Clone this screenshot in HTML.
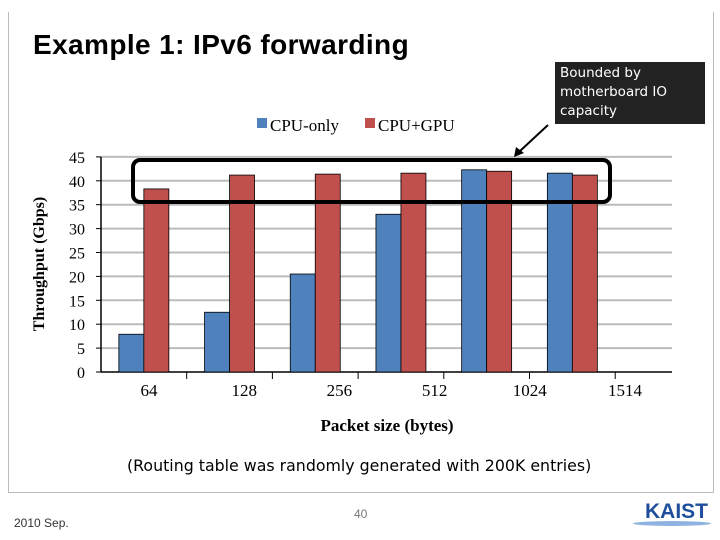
<!DOCTYPE html>
<html><head><meta charset="utf-8"><style>
body{margin:0;width:720px;height:540px;background:#fff;overflow:hidden;position:relative;font-family:"Liberation Sans",sans-serif}
.a{position:absolute}
</style></head><body>
<div class="a" style="left:8px;top:12px;width:704px;height:480px;border:1px solid #bbb;border-top:none"></div>
<div class="a" style="left:33px;top:29px;font-size:28px;font-weight:bold;letter-spacing:0.4px">Example 1: IPv6 forwarding</div>
<div class="a" style="left:555px;top:62px;width:150px;height:62px;background:#222;color:#fff;font-family:'DejaVu Sans',sans-serif;font-size:13.5px;line-height:19px;padding:2px 5px;box-sizing:border-box">Bounded by motherboard IO capacity</div>
<svg class="a" style="left:0;top:0" width="720" height="540">
<g id="g"></g>
</svg>
<div class="a" style="left:127px;top:456px;font-family:'DejaVu Sans',sans-serif;font-size:15.8px">(Routing table was randomly generated with 200K entries)</div>
<div class="a" style="left:354px;top:507px;font-size:12px;color:#777">40</div>
<div class="a" style="left:14px;top:516px;font-size:12px;color:#333">2010 Sep.</div>
<div class="a" style="left:645px;top:500px;font-size:21px;font-weight:bold;color:#1f4f9c">KAIST</div>
<div class="a" style="left:633px;top:521px;width:78px;height:5px;border-radius:50%;background:#8fb3e0"></div>
<script>
const categories=["64","128","256","512","1024","1514"];
const cpuOnly=[7.9,12.5,20.5,33.0,42.3,41.6];
const cpuGpu=[38.3,41.2,41.4,41.6,42.0,41.2];
const yTicks=[0,5,10,15,20,25,30,35,40,45];
const NS="http://www.w3.org/2000/svg",g=document.getElementById('g');
const x0=101,cw=85.7,yb=372,ppu=4.78;
const y=v=>yb-v*ppu;
function mk(t,a,txt){const e=document.createElementNS(NS,t);for(const k in a)e.setAttribute(k,a[k]);if(txt!=null)e.textContent=txt;g.appendChild(e);return e;}
yTicks.forEach(t=>{
 if(t>0){const l=mk('line',{x1:x0,x2:672,y1:y(t),y2:y(t),stroke:'#bbb','stroke-width':2});
 
 }
 const tx=mk('text',{x:85,y:y(t)+6,'text-anchor':'end','font-family':'Liberation Serif,serif','font-size':16},t);
 
 
 mk('line',{x1:x0-5,x2:x0,y1:y(t),y2:y(t),stroke:'#000'});
});
mk('line',{x1:x0,x2:x0,y1:y(45),y2:yb,stroke:'#000','stroke-width':1.5});
mk('line',{x1:x0,x2:672,y1:yb,y2:yb,stroke:'#000','stroke-width':1.5});
categories.forEach((c,i)=>{
 const cx=x0+cw*(i+0.5);
 mk('line',{x1:x0+cw*(i+1),x2:x0+cw*(i+1),y1:yb,y2:yb+7,stroke:'#000'});
 const b=mk('rect',{x:cx-25,y:y(cpuOnly[i]),width:25,height:cpuOnly[i]*ppu,fill:'#4f81bd',stroke:'#000','stroke-width':0.8});
 
 
 const r=mk('rect',{x:cx,y:y(cpuGpu[i]),width:25,height:cpuGpu[i]*ppu,fill:'#c0504d',stroke:'#000','stroke-width':0.8});
 
 
 const t=mk('text',{x:149+i*95.2,y:396,'text-anchor':'middle','font-family':'Liberation Serif,serif','font-size':17},c);
 
 
});
const hb=mk('rect',{x:133,y:160,width:477,height:42,rx:7,fill:'none',stroke:'#000','stroke-width':4});


mk('line',{x1:548,y1:125,x2:520,y2:151,stroke:'#000','stroke-width':2});
mk('polygon',{points:'514,157 516,147 524,153',fill:'#000'});
const yt=mk('text',{transform:'translate(44,264) rotate(-90)','text-anchor':'middle','font-family':'Liberation Serif,serif','font-size':16,'font-weight':'bold'},'Throughput (Gbps)');


const xt=mk('text',{x:387,y:431,'text-anchor':'middle','font-family':'Liberation Serif,serif','font-size':17,'font-weight':'bold'},'Packet size (bytes)');


[['CPU-only','#4f81bd',257],['CPU+GPU','#c0504d',365]].forEach(([n,c,x])=>{
 const s=mk('rect',{x:x,y:118,width:10,height:10,fill:c});
 
 
 const t=mk('text',{x:x+13,y:131,'font-family':'Liberation Serif,serif','font-size':17},n);
 
 
});
</script>
</body></html>
